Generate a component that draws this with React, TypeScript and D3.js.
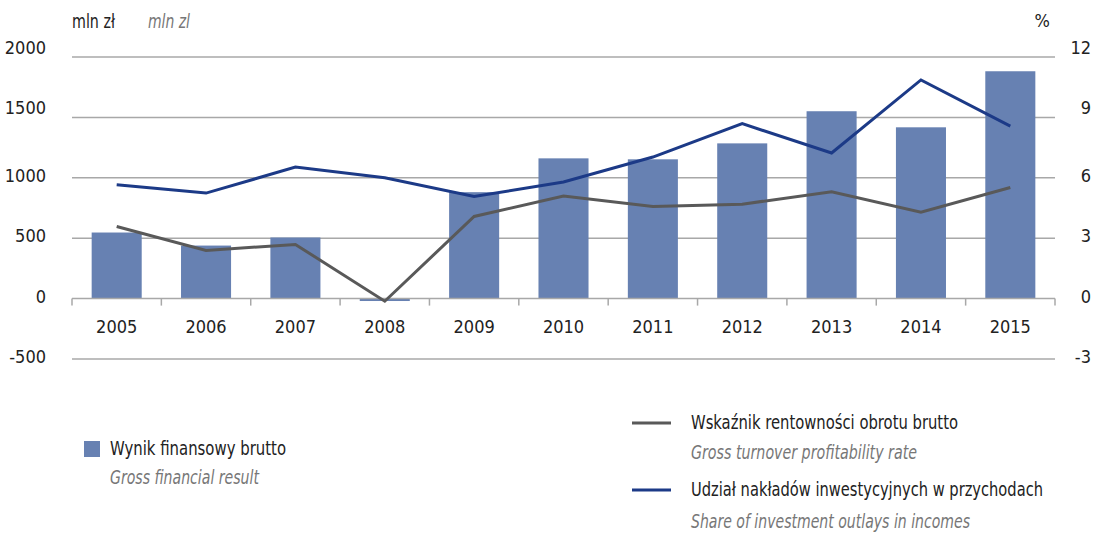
import React, { useEffect } from 'react';
import * as d3 from 'd3';

const years = ['2005', '2006', '2007', '2008', '2009', '2010', '2011', '2012', '2013', '2014', '2015'];
// Wynik finansowy brutto (mln zł)
const grossResult = [547, 439, 506, -20, 881, 1161, 1153, 1285, 1551, 1418, 1882];
// Wskaźnik rentowności obrotu brutto (%)
const profitRate = [3.58, 2.39, 2.69, -0.13, 4.08, 5.09, 4.58, 4.69, 5.31, 4.29, 5.52];
// Udział nakładów inwestycyjnych w przychodach (%)
const investShare = [5.66, 5.24, 6.53, 6.0, 5.07, 5.79, 7.03, 8.69, 7.23, 10.86, 8.57];

const leftTicks = [2000, 1500, 1000, 500, 0, -500];
const rightTicks = [12, 9, 6, 3, 0, -3];

const W = 1103;
const H = 533;
const FONT = '"DejaVu Sans Condensed", "Liberation Sans", sans-serif';
const BAR = '#6781b2';
const GRAY = '#595959';
const BLUE = '#1c3a87';
const GRID = '#a8a8a8';

// squeeze a label to the width it has in the reference
const Label: React.FC<{ x: number; y: number; w: number; italic?: boolean; children: string }> = ({ x, y, w, italic, children }) => (
  <text
    x={x}
    y={y}
    dominantBaseline="middle"
    fontSize={19}
    fontStyle={italic ? 'italic' : 'normal'}
    fill={italic ? '#777' : '#222'}
    textLength={w}
    lengthAdjust="spacingAndGlyphs"
  >
    {children}
  </text>
);

const App: React.FC = () => {
  useEffect(() => {
    document.body.style.margin = '0';
  }, []);

  const x = d3.scaleBand().domain(years).range([72, 1055]).paddingInner(0.44).paddingOuter(0.22);
  const yL = d3.scaleLinear().domain([-500, 2000]).range([359, 57]);
  const yR = d3.scaleLinear().domain([-3, 12]).range([359, 57]);
  const step = x.step();
  const x0 = x.range()[0];

  const lineGen = d3
    .line<number>()
    .x((_, i) => (x(years[i]) as number) + x.bandwidth() / 2)
    .y((d) => yR(d));

  return (
    <svg width={W} height={H} style={{ display: 'block', background: '#fff' }} fontFamily={FONT}>
      {/* gridlines */}
      {leftTicks.filter((t) => t !== 0).map((t) => (
        <line key={t} x1={72} x2={1055} y1={yL(t)} y2={yL(t)} stroke={GRID} strokeWidth={1.5} />
      ))}
      {/* bars */}
      {grossResult.map((v, i) => (
        <rect
          key={years[i]}
          x={x(years[i])}
          width={x.bandwidth()}
          y={Math.min(yL(v), yL(0))}
          height={Math.abs(yL(v) - yL(0))}
          fill={BAR}
        />
      ))}
      {/* x axis */}
      <line x1={72} x2={1055} y1={yL(0)} y2={yL(0)} stroke={GRID} strokeWidth={1.5} />
      {d3.range(years.length + 1).map((i) => (
        <line key={i} x1={x0 + i * step} x2={x0 + i * step} y1={yL(0)} y2={yL(0) + 7} stroke={GRID} strokeWidth={1.5} />
      ))}
      {years.map((yr) => (
        <text key={yr} x={(x(yr) as number) + x.bandwidth() / 2} y={328} textAnchor="middle" dominantBaseline="middle" fontSize={18} fill="#222">
          {yr}
        </text>
      ))}
      {/* lines */}
      <path d={lineGen(profitRate) as string} fill="none" stroke={GRAY} strokeWidth={3} />
      <path d={lineGen(investShare) as string} fill="none" stroke={BLUE} strokeWidth={3} />
      {/* left axis labels */}
      {leftTicks.map((t) => (
        <text key={t} x={46} y={yL(t) - (t >= 1500 ? 8 : 1)} textAnchor="end" dominantBaseline="middle" fontSize={18} fill="#222">
          {t}
        </text>
      ))}
      {/* right axis labels */}
      {rightTicks.map((t) => (
        <text key={t} x={1091} y={yR(t) - (t >= 9 ? 8 : 1)} textAnchor="end" dominantBaseline="middle" fontSize={18} fill="#222">
          {t}
        </text>
      ))}
      {/* unit labels */}
      <Label x={72} y={22} w={43}>mln zł</Label>
      <Label x={148} y={22} w={42} italic>mln zl</Label>
      <text x={1050} y={22} textAnchor="end" dominantBaseline="middle" fontSize={18} fill="#222">%</text>
      {/* legend */}
      <rect x={84} y={441} width={16} height={16} fill={BAR} />
      <Label x={110} y={449} w={176}>Wynik finansowy brutto</Label>
      <Label x={110} y={478} w={149} italic>Gross financial result</Label>
      <line x1={632} x2={671} y1={423} y2={423} stroke={GRAY} strokeWidth={3} />
      <Label x={691} y={423} w={267}>Wskaźnik rentowności obrotu brutto</Label>
      <Label x={691} y={453} w={226} italic>Gross turnover profitability rate</Label>
      <line x1={632} x2={671} y1={490} y2={490} stroke={BLUE} strokeWidth={3} />
      <Label x={691} y={490} w={352}>Udział nakładów inwestycyjnych w przychodach</Label>
      <Label x={691} y={522} w={279} italic>Share of investment outlays in incomes</Label>
    </svg>
  );
};

export default App;
